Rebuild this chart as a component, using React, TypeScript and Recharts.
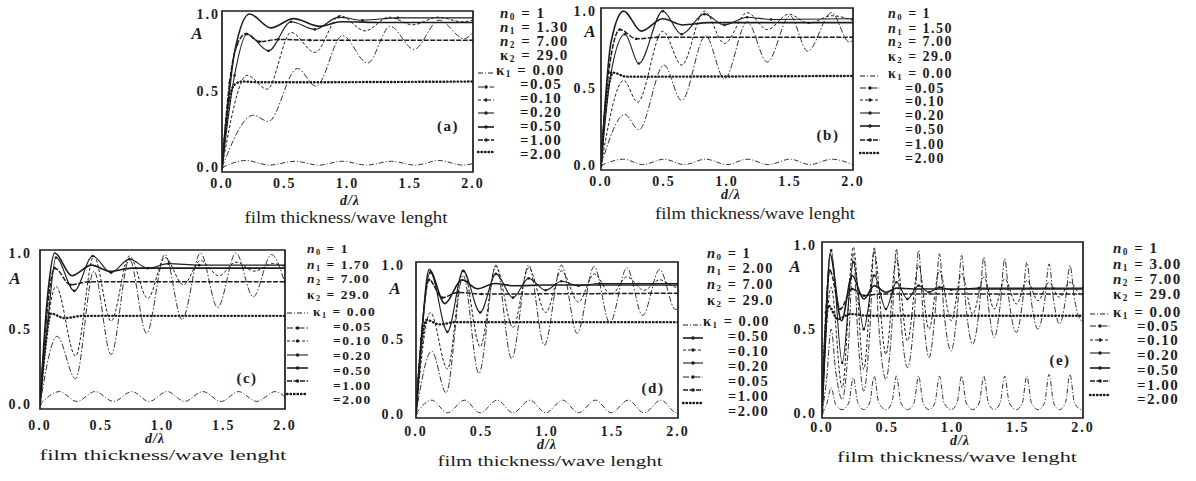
import { LineChart, Line, XAxis, YAxis, ReferenceArea } from "recharts";

type Pt = [number, number];

// axes
const xTicks = [0, 0.5, 1, 1.5, 2];
const yTicks = [0, 0.5, 1];

// legend text
const n1Values = ["1.30", "1.50", "1.70", "2.00", "3.00"];
const kappaValues = ["0.00", "0.05", "0.10", "0.20", "0.50", "1.00", "2.00"];
const panelTags = ["(a)", "(b)", "(c)", "(d)", "(e)"];
// panel (d) prints its kappa list in another order
const legendOrder = [
  [0, 1, 2, 3, 4, 5, 6],
  [0, 1, 2, 3, 4, 5, 6],
  [0, 1, 2, 3, 4, 5, 6],
  [0, 4, 2, 3, 1, 5, 6],
  [0, 1, 2, 3, 4, 5, 6],
];

// (a) n1 = 1.30
const aK000: Pt[] = [[0, 0], [0.19, 0.045], [0.38, 0.015], [0.58, 0.04], [0.77, 0.015], [0.96, 0.04], [1.15, 0.015], [1.35, 0.04], [1.54, 0.015], [1.73, 0.045], [1.92, 0.015], [2.0, 0.025]];
const aK005: Pt[] = [[0, 0], [0.25, 0.34], [0.37, 0.3], [0.6, 0.645], [0.75, 0.53], [0.96, 0.86], [1.16, 0.68], [1.34, 0.92], [1.53, 0.77], [1.73, 0.96], [1.93, 0.84], [2.0, 0.88]];
const aK010: Pt[] = [[0, 0], [0.2, 0.6], [0.36, 0.51], [0.55, 0.88], [0.74, 0.75], [0.94, 0.99], [1.14, 0.89], [1.33, 0.98], [1.52, 0.93], [1.72, 0.98], [1.91, 0.95], [2.0, 0.96]];
const aK020: Pt[] = [[0, 0], [0.1, 0.6], [0.2, 0.87], [0.37, 0.76], [0.55, 0.95], [0.74, 0.9], [0.93, 0.98], [1.12, 0.96], [1.4, 0.975], [2.0, 0.975]];
const aK050: Pt[] = [[0, 0], [0.1, 0.75], [0.22, 1.0], [0.39, 0.91], [0.57, 0.97], [0.78, 0.92], [0.95, 0.95], [1.3, 0.945], [2.0, 0.945]];
const aK100: Pt[] = [[0, 0], [0.06, 0.55], [0.12, 0.8], [0.19, 0.87], [0.3, 0.82], [0.45, 0.835], [0.7, 0.83], [2.0, 0.83]];
const aK200: Pt[] = [[0, 0], [0.05, 0.4], [0.1, 0.54], [0.16, 0.56], [0.3, 0.555], [2.0, 0.56]];

// (b) n1 = 1.50
const bK000: Pt[] = [[0, 0], [0.18, 0.04], [0.33, 0.005], [0.5, 0.04], [0.66, 0.005], [0.83, 0.04], [1.0, 0.005], [1.16, 0.04], [1.33, 0.005], [1.5, 0.04], [1.66, 0.005], [1.83, 0.04], [2.0, 0.005]];
const bK005: Pt[] = [[0, 0], [0.19, 0.33], [0.3, 0.23], [0.5, 0.65], [0.64, 0.42], [0.83, 0.84], [0.98, 0.56], [1.16, 0.93], [1.32, 0.67], [1.5, 0.97], [1.64, 0.74], [1.83, 0.99], [1.97, 0.8], [2.0, 0.81]];
const bK010: Pt[] = [[0, 0], [0.18, 0.55], [0.29, 0.41], [0.49, 0.87], [0.64, 0.65], [0.82, 1.0], [0.98, 0.79], [1.16, 0.99], [1.32, 0.88], [1.49, 0.98], [1.65, 0.92], [1.83, 0.97], [2.0, 0.94]];
const bK020: Pt[] = [[0, 0], [0.08, 0.6], [0.19, 0.85], [0.3, 0.66], [0.49, 1.0], [0.64, 0.85], [0.82, 0.98], [0.98, 0.91], [1.16, 0.96], [1.35, 0.945], [2.0, 0.95]];
const bK050: Pt[] = [[0, 0], [0.08, 0.8], [0.18, 1.0], [0.32, 0.87], [0.49, 0.95], [0.65, 0.91], [0.85, 0.925], [2.0, 0.925]];
const bK100: Pt[] = [[0, 0], [0.06, 0.6], [0.15, 0.88], [0.28, 0.82], [0.45, 0.83], [2.0, 0.83]];
const bK200: Pt[] = [[0, 0], [0.04, 0.4], [0.1, 0.6], [0.2, 0.575], [2.0, 0.58]];

// (c) n1 = 1.70
const cK000: Pt[] = [[0, 0], [0.16, 0.085], [0.3, 0.02], [0.45, 0.085], [0.6, 0.02], [0.75, 0.085], [0.89, 0.02], [1.04, 0.085], [1.18, 0.02], [1.33, 0.085], [1.48, 0.02], [1.62, 0.085], [1.77, 0.02], [1.92, 0.085], [2.0, 0.05]];
const cK005: Pt[] = [[0, 0], [0.14, 0.45], [0.29, 0.17], [0.44, 0.88], [0.58, 0.33], [0.73, 0.96], [0.87, 0.47], [1.02, 0.99], [1.16, 0.56], [1.31, 1.0], [1.45, 0.64], [1.6, 1.0], [1.74, 0.71], [1.89, 0.99], [2.0, 0.8]];
const cK010: Pt[] = [[0, 0], [0.13, 0.78], [0.29, 0.32], [0.44, 0.98], [0.58, 0.55], [0.73, 0.98], [0.88, 0.7], [1.02, 0.97], [1.17, 0.79], [1.31, 0.95], [1.46, 0.85], [1.6, 0.94], [1.75, 0.88], [1.9, 0.93], [2.0, 0.91]];
const cK020: Pt[] = [[0, 0], [0.07, 0.6], [0.13, 0.97], [0.28, 0.75], [0.43, 0.98], [0.58, 0.87], [0.73, 0.96], [0.88, 0.9], [1.05, 0.93], [1.3, 0.92], [2.0, 0.92]];
const cK050: Pt[] = [[0, 0], [0.06, 0.7], [0.12, 1.0], [0.26, 0.85], [0.42, 0.92], [0.57, 0.88], [0.75, 0.9], [2.0, 0.9]];
const cK100: Pt[] = [[0, 0], [0.05, 0.55], [0.12, 0.9], [0.25, 0.79], [0.4, 0.81], [2.0, 0.81]];
const cK200: Pt[] = [[0, 0], [0.04, 0.35], [0.09, 0.6], [0.2, 0.57], [0.35, 0.585], [2.0, 0.585]];

// (d) n1 = 2.00
const dK000: Pt[] = [[0, 0], [0.12, 0.09], [0.24, 0.005], [0.37, 0.09], [0.49, 0.005], [0.62, 0.09], [0.74, 0.005], [0.87, 0.09], [0.99, 0.005], [1.12, 0.09], [1.24, 0.005], [1.37, 0.09], [1.49, 0.005], [1.62, 0.09], [1.74, 0.005], [1.87, 0.09], [1.99, 0.005], [2.0, 0.005]];
const dK005: Pt[] = [[0, 0], [0.12, 0.42], [0.23, 0.14], [0.36, 0.93], [0.48, 0.27], [0.61, 1.0], [0.73, 0.37], [0.86, 1.0], [0.98, 0.46], [1.11, 1.0], [1.23, 0.54], [1.36, 0.99], [1.48, 0.61], [1.61, 0.98], [1.73, 0.66], [1.86, 0.97], [1.98, 0.7], [2.0, 0.71]];
const dK010: Pt[] = [[0, 0], [0.11, 0.68], [0.24, 0.3], [0.36, 0.97], [0.49, 0.45], [0.61, 0.99], [0.74, 0.58], [0.86, 0.98], [0.99, 0.68], [1.11, 0.96], [1.24, 0.75], [1.36, 0.94], [1.49, 0.8], [1.61, 0.92], [1.74, 0.83], [1.86, 0.9], [1.99, 0.85], [2.0, 0.85]];
const dK020: Pt[] = [[0, 0], [0.11, 0.95], [0.24, 0.55], [0.36, 0.96], [0.49, 0.68], [0.61, 0.94], [0.74, 0.78], [0.86, 0.91], [0.99, 0.83], [1.11, 0.89], [1.24, 0.86], [1.4, 0.875], [2.0, 0.875]];
const dK050: Pt[] = [[0, 0], [0.05, 0.6], [0.1, 0.97], [0.22, 0.74], [0.35, 0.9], [0.47, 0.84], [0.6, 0.875], [0.75, 0.86], [1.0, 0.865], [2.0, 0.865]];
const dK100: Pt[] = [[0, 0], [0.04, 0.5], [0.1, 0.9], [0.2, 0.78], [0.32, 0.815], [0.5, 0.805], [2.0, 0.81]];
const dK200: Pt[] = [[0, 0], [0.03, 0.35], [0.08, 0.63], [0.18, 0.6], [0.3, 0.615], [2.0, 0.615]];

// (e) n1 = 3.00
const eK000: Pt[] = [[0, 0], [0.035, 0.05], [0.07, 0.15], [0.105, 0.05], [0.155, 0.02], [0.205, 0.06], [0.24, 0.21], [0.275, 0.06], [0.32, 0.02], [0.365, 0.06], [0.4, 0.22], [0.435, 0.06], [0.49, 0.02], [0.535, 0.06], [0.57, 0.22], [0.605, 0.06], [0.655, 0.02], [0.705, 0.06], [0.74, 0.22], [0.775, 0.06], [0.82, 0.02], [0.865, 0.06], [0.9, 0.22], [0.935, 0.06], [0.99, 0.02], [1.035, 0.06], [1.07, 0.22], [1.105, 0.06], [1.155, 0.02], [1.205, 0.06], [1.24, 0.22], [1.275, 0.06], [1.32, 0.02], [1.365, 0.06], [1.4, 0.22], [1.435, 0.06], [1.49, 0.02], [1.535, 0.06], [1.57, 0.22], [1.605, 0.06], [1.655, 0.02], [1.705, 0.06], [1.74, 0.23], [1.775, 0.06], [1.82, 0.02], [1.865, 0.06], [1.9, 0.23], [1.935, 0.06], [1.99, 0.02], [2.0, 0.02]];
const eK005: Pt[] = [[0, 0], [0.035, 0.2], [0.07, 0.5], [0.105, 0.25], [0.155, 0.08], [0.205, 0.43], [0.24, 0.95], [0.275, 0.46], [0.32, 0.13], [0.365, 0.47], [0.4, 0.99], [0.435, 0.52], [0.49, 0.2], [0.535, 0.51], [0.57, 0.98], [0.605, 0.55], [0.655, 0.27], [0.705, 0.55], [0.74, 0.97], [0.775, 0.59], [0.82, 0.33], [0.865, 0.58], [0.9, 0.95], [0.935, 0.6], [0.99, 0.37], [1.035, 0.6], [1.07, 0.94], [1.105, 0.62], [1.155, 0.41], [1.205, 0.62], [1.24, 0.93], [1.275, 0.64], [1.32, 0.45], [1.365, 0.64], [1.4, 0.92], [1.435, 0.66], [1.49, 0.48], [1.535, 0.65], [1.57, 0.9], [1.605, 0.66], [1.655, 0.5], [1.705, 0.66], [1.74, 0.89], [1.775, 0.67], [1.82, 0.53], [1.865, 0.67], [1.9, 0.88], [1.935, 0.68], [1.99, 0.55], [2.0, 0.56]];
const eK010: Pt[] = [[0, 0], [0.07, 0.75], [0.155, 0.15], [0.24, 0.99], [0.32, 0.26], [0.4, 0.96], [0.49, 0.35], [0.57, 0.92], [0.655, 0.43], [0.74, 0.88], [0.82, 0.5], [0.9, 0.85], [0.99, 0.55], [1.07, 0.83], [1.155, 0.59], [1.24, 0.81], [1.32, 0.62], [1.4, 0.8], [1.49, 0.65], [1.57, 0.79], [1.655, 0.67], [1.74, 0.78], [1.82, 0.69], [1.9, 0.78], [1.99, 0.7], [2.0, 0.7]];
const eK020: Pt[] = [[0, 0], [0.07, 0.97], [0.155, 0.3], [0.24, 0.9], [0.32, 0.5], [0.4, 0.82], [0.49, 0.62], [0.57, 0.78], [0.655, 0.68], [0.74, 0.76], [0.82, 0.72], [0.9, 0.75], [0.99, 0.735], [1.2, 0.745], [2.0, 0.745]];
const eK050: Pt[] = [[0, 0], [0.03, 0.5], [0.06, 0.95], [0.15, 0.55], [0.23, 0.82], [0.32, 0.68], [0.4, 0.76], [0.49, 0.72], [0.57, 0.745], [0.7, 0.74], [2.0, 0.74]];
const eK100: Pt[] = [[0, 0], [0.03, 0.6], [0.06, 0.85], [0.14, 0.62], [0.23, 0.74], [0.32, 0.7], [0.45, 0.71], [2.0, 0.71]];
const eK200: Pt[] = [[0, 0], [0.02, 0.4], [0.05, 0.64], [0.12, 0.56], [0.22, 0.59], [0.35, 0.58], [2.0, 0.58]];

const panelSeries: Pt[][][] = [
  [aK000, aK005, aK010, aK020, aK050, aK100, aK200],
  [bK000, bK005, bK010, bK020, bK050, bK100, bK200],
  [cK000, cK005, cK010, cK020, cK050, cK100, cK200],
  [dK000, dK005, dK010, dK020, dK050, dK100, dK200],
  [eK000, eK005, eK010, eK020, eK050, eK100, eK200],
];

// line style per kappa1
const seriesStyle = [
  { dash: "5 2 1 2", width: 0.9, dot: false, round: false },
  { dash: "6 2 1.5 2", width: 0.9, dot: false, round: false },
  { dash: "3 2", width: 1, dot: false, round: false },
  { dash: undefined, width: 1.1, dot: true, round: false },
  { dash: undefined, width: 1.6, dot: false, round: false },
  { dash: "5 1.5", width: 1.5, dot: true, round: false },
  { dash: "0.5 3", width: 2.4, dot: false, round: true },
];

const ink = "#1c1c1c";
const serif = "'Liberation Serif', 'DejaVu Serif', serif";
const tickFont = { fontSize: 14, fontFamily: serif, fontWeight: 700, fill: ink, letterSpacing: 2 };

// plot frames in page pixels
const frames = [
  { left: 222, top: 11, w: 251, h: 161 },
  { left: 601, top: 8, w: 252, h: 162 },
  { left: 40, top: 250, w: 245, h: 159 },
  { left: 416, top: 262, w: 262, h: 156 },
  { left: 822, top: 242, w: 261, h: 176 },
];
const xTickGap = [4, 4, 9, 6, 2];
const yTickGap = [0, 2, 6, 9, 3];

const aLabelPos = [[197, 35], [590, 33], [15, 280], [395, 290], [795, 268]];
const tagPos = [[448, 128], [828, 137], [247, 380], [653, 390], [1060, 362]];
const dLabelPos = [[350, 202], [731, 196], [155, 440], [547, 446], [960, 442]];
const captions = [
  { cx: 346, y: 219, w: 203, fs: 16 },
  { cx: 755, y: 215, w: 200, fs: 16 },
  { cx: 163, y: 457, w: 247, fs: 15 },
  { cx: 550, y: 463, w: 225, fs: 15 },
  { cx: 957, y: 459, w: 240, fs: 15 },
];
const legendLayouts = [
  { hx: 500, kx: 496, vx: 520, rows: [15, 29, 43, 57, 72, 86, 100, 114, 128, 142, 156], sx: [478, 494], sy: [73, 87, 100, 113, 127, 140, 152], fs: 15 },
  { hx: 888, kx: 888, vx: 905, rows: [15, 30, 43, 58, 75, 90, 103, 117, 131, 146, 160], sx: [860, 880], sy: [76, 88, 100, 113, 126, 140, 153], fs: 14 },
  { hx: 307, kx: 313, vx: 333, rows: [250, 266, 280, 296, 313, 328, 342, 357, 372, 387, 401], sx: [287, 308], sy: [313, 328, 341, 355, 368, 381, 394], fs: 13.5 },
  { hx: 707, kx: 703, vx: 728, rows: [255, 270, 286, 302, 323, 338, 353, 368, 383, 398, 413], sx: [683, 703], sy: [325, 338, 350, 363, 377, 390, 403], fs: 14.5 },
  { hx: 1113, kx: 1113, vx: 1137, rows: [250, 266, 281, 296, 314, 328, 342, 357, 372, 387, 401], sx: [1090, 1110], sy: [314, 326, 340, 353, 368, 381, 395], fs: 15 },
];

function Panel({ i }: { i: number }) {
  const f = frames[i];
  return (
    <div style={{ position: "absolute", left: f.left - 40, top: f.top - 6 }}>
      <LineChart width={f.w + 60} height={f.h + 36} margin={{ top: 6, right: 20, bottom: 0, left: 0 }}>
        <XAxis
          type="number"
          dataKey="x"
          domain={[0, 2]}
          ticks={xTicks}
          interval={0}
          allowDataOverflow
          tickFormatter={(v: number) => v.toFixed(1)}
          axisLine={false}
          tickLine={false}
          tickSize={2}
          tickMargin={xTickGap[i]}
          height={30}
          tick={tickFont}
        />
        <YAxis
          type="number"
          domain={[-0.03, 1.02]}
          ticks={yTicks}
          interval={0}
          allowDataOverflow
          tickFormatter={(v: number) => v.toFixed(1)}
          axisLine={false}
          tickLine={false}
          tickSize={2}
          tickMargin={yTickGap[i]}
          width={40}
          tick={tickFont}
        />
        <ReferenceArea x1={0} x2={2} y1={-0.03} y2={1.02} fill="none" stroke={ink} strokeWidth={1.7} />
        {panelSeries[i].map((pts, k) => {
          const s = seriesStyle[k];
          return (
            <Line
              key={k}
              data={pts.map(([x, y]) => ({ x, y }))}
              dataKey="y"
              type="monotone"
              stroke={ink}
              strokeWidth={s.width}
              strokeDasharray={s.dash}
              strokeLinecap={s.round ? "round" : "butt"}
              dot={s.dot ? { r: 1.3, fill: ink, stroke: "none" } : false}
              activeDot={false}
              isAnimationActive={false}
            />
          );
        })}
      </LineChart>
    </div>
  );
}

function SubLabel({ x, y, sym, sub, rest, fs, italic }: { x: number; y: number; sym: string; sub: string; rest: string; fs: number; italic: boolean }) {
  return (
    <text x={x} y={y} dominantBaseline="middle" style={{ fontFamily: serif, fontSize: fs, fontWeight: 700, fill: ink, letterSpacing: 1.5 }}>
      <tspan fontStyle={italic ? "italic" : "normal"}>{sym}</tspan>
      <tspan fontSize={fs * 0.62} dy={3}>{sub}</tspan>
      <tspan dy={-3}>{rest}</tspan>
    </text>
  );
}

function Legend({ i }: { i: number }) {
  const L = legendLayouts[i];
  const order = legendOrder[i];
  const heads = [
    { sym: "n", sub: "0", rest: " = 1", it: true },
    { sym: "n", sub: "1", rest: " = " + n1Values[i], it: true },
    { sym: "n", sub: "2", rest: " = 7.00", it: true },
    { sym: "κ", sub: "2", rest: " = 29.0", it: false },
  ];
  return (
    <g>
      {heads.map((h, r) => (
        <SubLabel key={r} x={L.hx} y={L.rows[r]} sym={h.sym} sub={h.sub} rest={h.rest} fs={L.fs} italic={h.it} />
      ))}
      <SubLabel x={L.kx} y={L.rows[4]} sym="κ" sub="1" rest={" = " + kappaValues[order[0]]} fs={L.fs} italic={false} />
      {order.slice(1).map((k, r) => (
        <text key={r} x={L.vx} y={L.rows[5 + r]} dominantBaseline="middle" style={{ fontFamily: serif, fontSize: L.fs, fontWeight: 700, fill: ink, letterSpacing: 1.5 }}>
          {"=" + kappaValues[k]}
        </text>
      ))}
      {order.map((k, r) => {
        const s = seriesStyle[k];
        const y = L.sy[r];
        return (
          <g key={"s" + r}>
            <line x1={L.sx[0]} x2={L.sx[1]} y1={y} y2={y} stroke={ink} strokeWidth={Math.max(s.width, 1.1)} strokeDasharray={s.dash} strokeLinecap={s.round ? "round" : "butt"} />
            {k > 0 && k < 6 ? <circle cx={(L.sx[0] + L.sx[1]) / 2} cy={y} r={1.7} fill={ink} /> : null}
          </g>
        );
      })}
    </g>
  );
}

export default function App() {
  return (
    <div style={{ position: "absolute", left: 0, top: 0, width: 1196, height: 481, background: "#fff", overflow: "hidden" }}>
      {frames.map((_, i) => (
        <Panel key={i} i={i} />
      ))}
      <svg width={1196} height={481} style={{ position: "absolute", left: 0, top: 0, pointerEvents: "none" }}>
        {frames.map((_, i) => (
          <g key={i}>
            <text x={aLabelPos[i][0]} y={aLabelPos[i][1]} textAnchor="middle" dominantBaseline="middle" style={{ fontFamily: serif, fontSize: 17, fontWeight: 700, fontStyle: "italic", fill: ink }}>
              A
            </text>
            <text x={tagPos[i][0]} y={tagPos[i][1]} textAnchor="middle" dominantBaseline="middle" style={{ fontFamily: serif, fontSize: 15, fontWeight: 700, fill: ink, letterSpacing: 1.5 }}>
              {panelTags[i]}
            </text>
            <text x={dLabelPos[i][0]} y={dLabelPos[i][1]} textAnchor="middle" dominantBaseline="middle" style={{ fontFamily: serif, fontSize: 14, fontWeight: 700, fontStyle: "italic", fill: ink, letterSpacing: 1 }}>
              d/λ
            </text>
            <text
              x={captions[i].cx - captions[i].w / 2}
              y={captions[i].y}
              dominantBaseline="middle"
              textLength={captions[i].w}
              lengthAdjust="spacingAndGlyphs"
              style={{ fontFamily: serif, fontSize: captions[i].fs, fill: ink }}
            >
              film thickness/wave lenght
            </text>
            <Legend i={i} />
          </g>
        ))}
      </svg>
    </div>
  );
}
